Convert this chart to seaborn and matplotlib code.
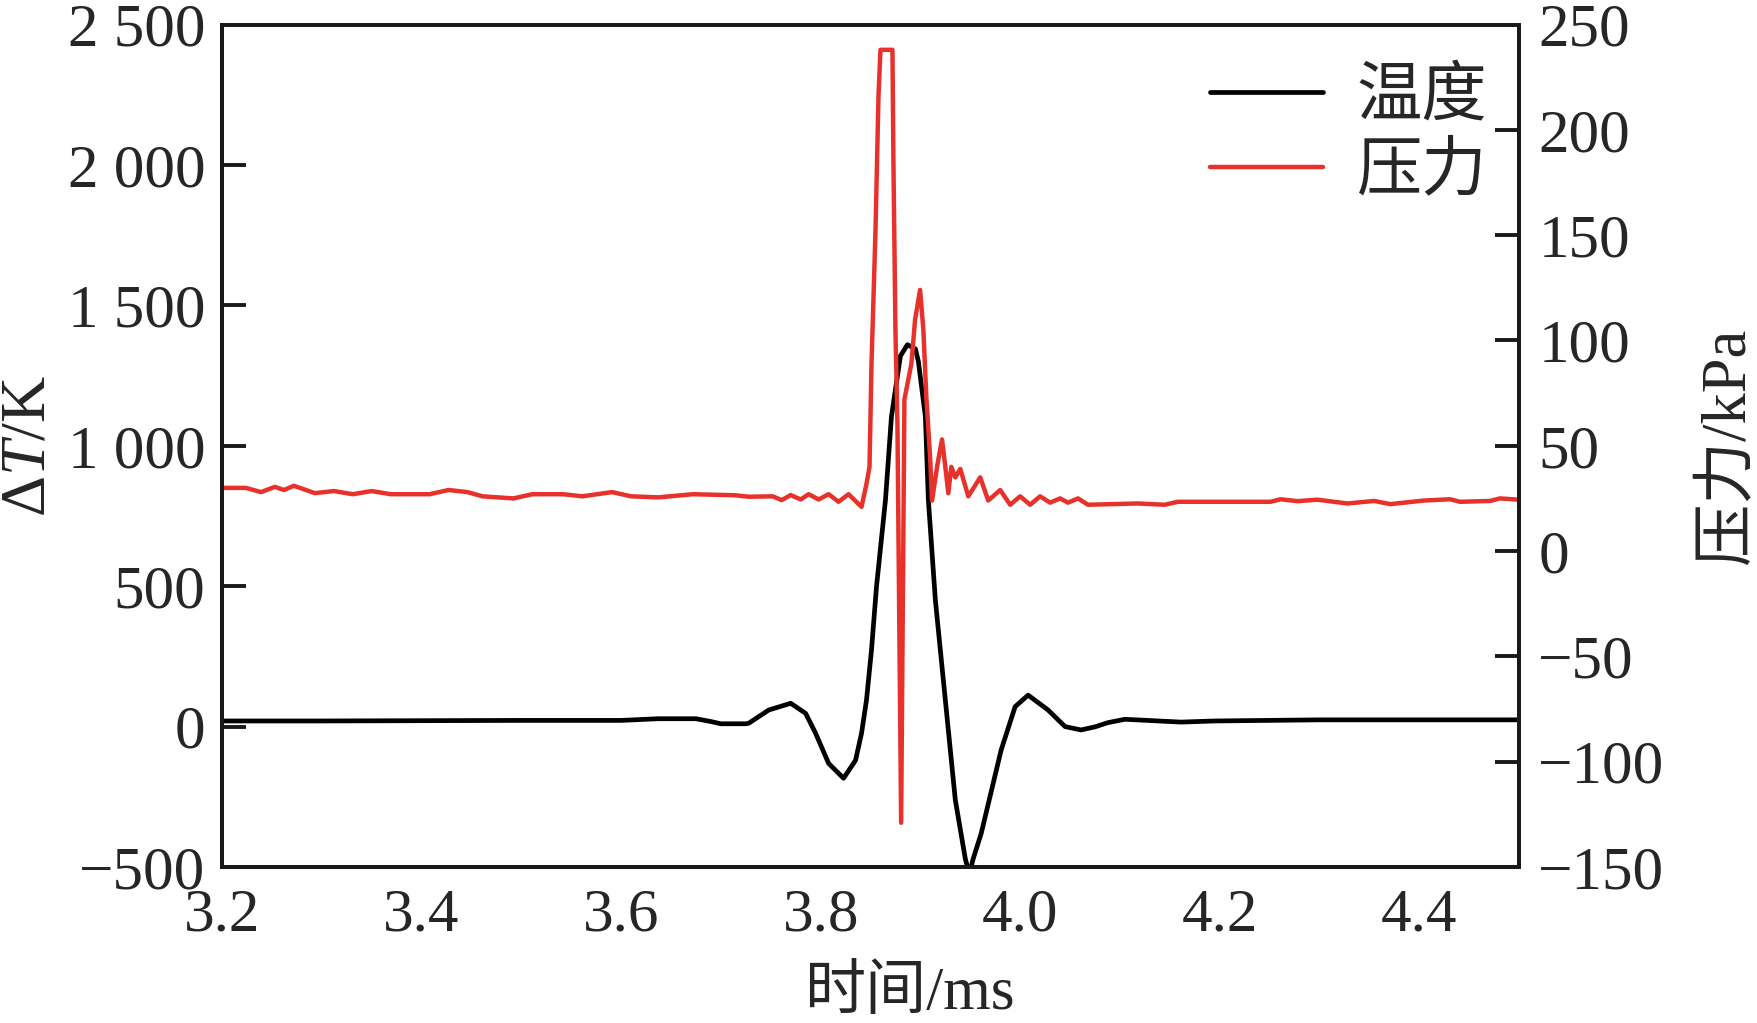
import matplotlib
matplotlib.use('Agg')
import matplotlib.pyplot as plt
import seaborn as sns
import pandas as pd

# === Data ===
temp_time = [3.200, 3.300, 3.400, 3.500, 3.600, 3.637, 3.675, 3.690, 3.700, 3.725,
             3.728, 3.748, 3.770, 3.785, 3.795, 3.808, 3.823, 3.835, 3.841, 3.846,
             3.851, 3.856, 3.865, 3.871, 3.880, 3.887, 3.895, 3.898, 3.905, 3.908,
             3.915, 3.925, 3.935, 3.945, 3.949, 3.953, 3.961, 3.981, 3.995, 4.008,
             4.028, 4.045, 4.061, 4.075, 4.088, 4.105, 4.161, 4.195, 4.300, 4.400,
             4.500]
temp_vals = [20, 20, 21, 22, 22, 28, 28, 18, 10, 10,
             12, 59, 83, 47, -24, -131, -184, -120, -24, 95,
             273, 498, 807, 1104, 1320, 1360, 1345, 1300, 1104, 807,
             451, 95, -261, -470, -525, -470, -380, -83, 71, 112,
             59, 0, -12, -1, 14, 26, 16, 20, 24, 24,
             24]

press_time = [3.200, 3.224, 3.239, 3.253, 3.262, 3.272, 3.293, 3.312, 3.331, 3.350,
              3.369, 3.408, 3.427, 3.446, 3.461, 3.492, 3.511, 3.542, 3.561, 3.591,
              3.610, 3.637, 3.672, 3.714, 3.728, 3.752, 3.761, 3.770, 3.780, 3.788,
              3.798, 3.808, 3.818, 3.828, 3.841, 3.846, 3.849, 3.851, 3.855, 3.858,
              3.860, 3.872, 3.873, 3.875, 3.877, 3.8807, 3.884, 3.891, 3.8947, 3.8997,
              3.903, 3.906, 3.9097, 3.9117, 3.9167, 3.9217, 3.925, 3.928, 3.931, 3.935,
              3.940, 3.948, 3.960, 3.968, 3.980, 3.990, 4.000, 4.010, 4.020, 4.030,
              4.040, 4.048, 4.058, 4.068, 4.118, 4.145, 4.158, 4.251, 4.261, 4.278,
              4.298, 4.328, 4.355, 4.371, 4.405, 4.431, 4.441, 4.471, 4.481, 4.500]
press_vals = [30, 30, 28, 30.5, 29, 31, 27.5, 28.5, 27, 28.5,
              27, 27, 29, 28, 26, 25, 27, 27, 26, 28,
              26, 25.5, 27, 26.5, 25.8, 26, 24.2, 26.6, 24.5, 27,
              24.5, 27, 23.4, 27, 21, 32, 40, 89, 152, 216,
              238, 238, 184, 105, 60, -129, 72, 89, 110, 124,
              105, 73, 45, 24, 40, 53, 40, 27.5, 40, 35,
              39, 26, 35, 24, 29, 22, 26, 22, 26, 23,
              25, 23, 25, 22, 22.6, 22, 23.4, 23.4, 24.6, 23.7,
              24.4, 22.6, 23.8, 22.3, 24, 24.6, 23.4, 23.8, 25, 24.4]

left_ticks = [-500, 0, 500, 1000, 1500, 2000, 2500]
left_labels = ['\u2212500', '0', '500', '1 000', '1 500', '2 000', '2 500']
right_ticks = [-150, -100, -50, 0, 50, 100, 150, 200, 250]
right_labels = ['\u2212150', '\u2212100', '\u221250', '0', '50', '100', '150', '200', '250']
x_ticks = [3.2, 3.4, 3.6, 3.8, 4.0, 4.2, 4.4]
x_labels = ['3.2', '3.4', '3.6', '3.8', '4.0', '4.2', '4.4']

temp_df = pd.DataFrame({'t': temp_time, 'T': temp_vals})
press_df = pd.DataFrame({'t': press_time, 'p': press_vals})

# === Style ===
sns.set_style('white')
plt.rcParams['font.family'] = ['Liberation Serif', 'Noto Sans CJK SC', 'DejaVu Sans']
plt.rcParams['mathtext.fontset'] = 'custom'
plt.rcParams['mathtext.rm'] = 'Liberation Serif'
plt.rcParams['mathtext.it'] = 'Liberation Serif:italic'

fig, ax = plt.subplots(figsize=(17.57, 10.23), dpi=100)
fig.subplots_adjust(left=0.1264, right=0.8645, top=0.976, bottom=0.1525)
ax2 = ax.twinx()

sns.lineplot(data=temp_df, x='t', y='T', ax=ax, color='black', lw=3.4, label='温度', legend=False)
sns.lineplot(data=press_df, x='t', y='p', ax=ax2, color='#e8312a', lw=3.2, label='压力', legend=False)

ax.set_xlim(3.2, 4.5)
ax.set_ylim(-500, 2500)
ax2.set_ylim(-150, 250)

ax.set_xticks(x_ticks, x_labels)
ax.set_yticks(left_ticks, left_labels)
ax2.set_yticks(right_ticks, right_labels)

ax.tick_params(axis='both', direction='in', length=17, width=2.8, labelsize=44, color='#1a1a1a')
ax.tick_params(axis='x', pad=15)
ax.tick_params(axis='y', pad=12)
ax2.tick_params(axis='y', direction='in', length=17, width=2.8, labelsize=44, pad=14, color='#1a1a1a')

for a in (ax, ax2):
    for s in a.spines.values():
        s.set_linewidth(2.8)
        s.set_color('#1a1a1a')

ax.set_xlabel('时间/ms', fontsize=44)
ax.set_ylabel('Δ$\\mathit{T}$/K', fontsize=46)
ax2.set_ylabel('压力/kPa', fontsize=45)
ax.xaxis.set_label_coords(0.53, -0.117)
ax.yaxis.set_label_coords(-0.126, 0.5)
ax2.yaxis.set_label_coords(1.1395, 0.5)

h1, l1 = ax.get_legend_handles_labels()
h2, l2 = ax2.get_legend_handles_labels()
leg = ax2.legend(h1 + h2, l1 + l2, loc='upper left', bbox_to_anchor=(0.762, 0.949),
                 frameon=False, fontsize=47, handlelength=1.72, handletextpad=0.52,
                 labelspacing=0.22, borderpad=0, borderaxespad=0)

fig.savefig('out.png', dpi=100)
